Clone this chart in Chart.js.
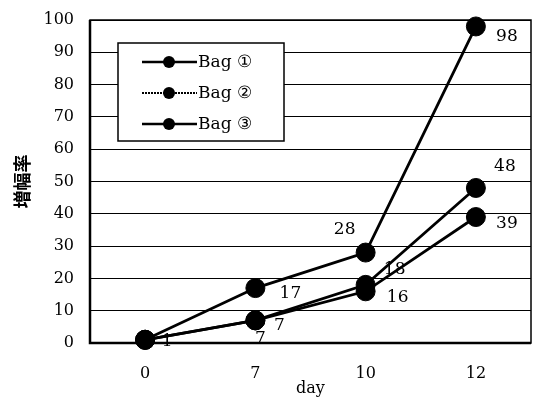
<!DOCTYPE html>
<html>
<head>
<meta charset="utf-8">
<script src="https://cdn.jsdelivr.net/npm/chart.js@4/dist/chart.umd.min.js"></script>
<style>
  html, body { margin: 0; padding: 0; background: #fff; }
  #wrap { width: 535px; height: 398px; }
</style>
</head>
<body>
<div id="wrap"><canvas id="lineChart" width="535" height="398"></canvas></div>
<script>
// data
const days = ['0', '7', '10', '12'];
const bag1 = [1, 17, 28, 98];
const bag2 = [1, 7, 18, 48];
const bag3 = [1, 7, 16, 39];
const seriesNames = ['Bag \u2460', 'Bag \u2461', 'Bag \u2462'];
const yTicks = [0, 10, 20, 30, 40, 50, 60, 70, 80, 90, 100];

// where each value label sits relative to its point (null = not shown)
const labelOffsets = [
    [null, [35, 5], [-21, -23], [31, 10]],
    [null, [24, 5], [29, -15], [29, -21]],
    [[22, 2], [5, 18], [32, 6], [31, 7]]
];

const serif = "'DejaVu Serif', 'Liberation Serif', serif";

const frame = {
    id: 'frame',
    beforeDatasetsDraw(chart) {
        const a = chart.chartArea;
        const c = chart.ctx;
        c.save();
        c.strokeStyle = '#000';
        c.lineWidth = 1.5;
        c.strokeRect(a.left, a.top, a.right - a.left, a.bottom - a.top);
        c.lineWidth = 2.5;
        c.beginPath();
        c.moveTo(a.left, a.top);
        c.lineTo(a.left, a.bottom);
        c.lineTo(a.right, a.bottom);
        c.stroke();
        c.restore();
    }
};

const valueLabels = {
    id: 'valueLabels',
    afterDatasetsDraw(chart) {
        const c = chart.ctx;
        c.save();
        c.font = '17px ' + serif;
        c.fillStyle = '#000';
        c.textAlign = 'center';
        c.textBaseline = 'middle';
        chart.data.datasets.forEach((ds, i) => {
            chart.getDatasetMeta(i).data.forEach((pt, j) => {
                const off = labelOffsets[i][j];
                if (!off) return;
                c.fillText(ds.data[j], pt.x + off[0], pt.y + off[1]);
            });
        });
        c.restore();
    }
};

const boxLegend = {
    id: 'boxLegend',
    afterDraw(chart) {
        const c = chart.ctx;
        const x = 118, y = 43, w = 166, h = 98;
        c.save();
        c.fillStyle = '#fff';
        c.fillRect(x, y, w, h);
        c.strokeStyle = '#000';
        c.lineWidth = 1.5;
        c.strokeRect(x, y, w, h);
        c.font = '17px ' + serif;
        c.textBaseline = 'middle';
        c.textAlign = 'left';
        chart.data.datasets.forEach((ds, i) => {
            const cy = y + 19 + i * 31;
            c.lineWidth = i === 1 ? 2 : 2.5;
            c.setLineDash(i === 1 ? [2, 1] : []);
            c.beginPath();
            c.moveTo(x + 24, cy);
            c.lineTo(x + 79, cy);
            c.stroke();
            c.setLineDash([]);
            c.fillStyle = '#000';
            c.beginPath();
            c.arc(x + 51, cy, 6, 0, Math.PI * 2);
            c.fill();
            c.fillText(ds.label, x + 80, cy + 1);
        });
        c.restore();
    }
};

const dataset = (label, values) => ({
    label: label,
    data: values,
    borderColor: '#000',
    backgroundColor: '#000',
    borderWidth: 2.8,
    pointRadius: 9.5,
    pointBorderWidth: 1,
    pointBackgroundColor: '#000',
    tension: 0,
    clip: false
});

const ctx = document.getElementById('lineChart').getContext('2d');
const myChart = new Chart(ctx, {
    type: 'line',
    data: {
        labels: days,
        datasets: [
            dataset(seriesNames[0], bag1),
            dataset(seriesNames[1], bag2),
            dataset(seriesNames[2], bag3)
        ]
    },
    options: {
        responsive: false,
        animation: false,
        layout: { autoPadding: false, padding: { left: 0, top: 20, right: 4, bottom: 0 } },
        plugins: {
            legend: { display: false },
            tooltip: { enabled: false }
        },
        scales: {
            x: {
                offset: true,
                grid: { display: false },
                border: { display: false },
                ticks: { color: '#000', padding: 13, font: { family: serif, size: 16 } },
                title: {
                    display: true,
                    text: 'day',
                    color: '#000',
                    padding: 0,
                    font: { family: serif, size: 16 }
                },
                afterFit(scale) {
                    scale.height = 55;
                    scale.paddingLeft = 0;
                    scale.paddingRight = 0;
                }
            },
            y: {
                min: 0,
                max: 100,
                afterBuildTicks(scale) { scale.ticks = yTicks.map(v => ({ value: v })); },
                grid: { color: '#000', lineWidth: 1, drawTicks: false },
                border: { display: false },
                ticks: { color: '#000', padding: 16, font: { family: serif, size: 16 } },
                title: {
                    display: true,
                    text: '増幅率',
                    color: '#000',
                    padding: { top: 11, bottom: 0 },
                    font: { family: "'Noto Sans CJK JP', sans-serif", size: 18, weight: 'bold' }
                },
                afterFit(scale) {
                    scale.width = 90;
                    scale.paddingTop = 0;
                    scale.paddingBottom = 0;
                }
            }
        }
    },
    plugins: [frame, valueLabels, boxLegend]
});
</script>
</body>
</html>
